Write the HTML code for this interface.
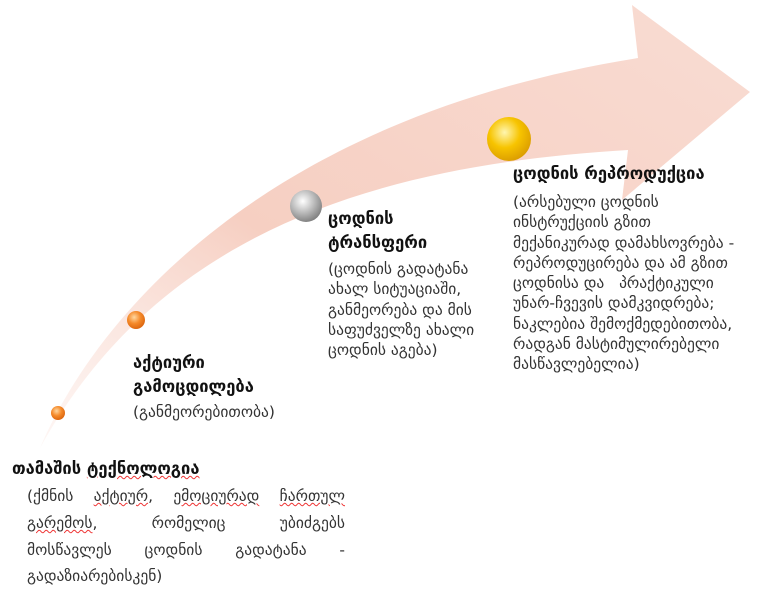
<!DOCTYPE html>
<html><head><meta charset="utf-8"><style>
body{margin:0;width:768px;height:610px;background:#fff;position:relative;overflow:hidden;font-family:"DejaVu Sans","Liberation Sans",sans-serif;color:#222}
.t{position:absolute;white-space:nowrap}
.h{font-weight:bold;font-size:16.5px;color:#111}
.b{font-size:15.5px;color:#333}
.u{text-decoration:underline wavy #e33;text-decoration-thickness:1px}
.j{position:absolute;left:27px;width:318px;text-align:justify;text-align-last:justify;white-space:nowrap;font-size:15.5px;color:#333}
</style></head><body>
<svg width="768" height="610" style="position:absolute;left:0;top:0">
<defs>
<linearGradient id="g" x1="0" y1="1" x2="1" y2="0">
<stop offset="0" stop-color="#fbe3dc" stop-opacity="0.3"/>
<stop offset="0.4" stop-color="#f6cfc2"/>
<stop offset="1" stop-color="#f9dcd3"/>
</linearGradient>
<radialGradient id="o" cx="0.4" cy="0.35" r="0.7"><stop offset="0" stop-color="#ffd7a0"/><stop offset="0.5" stop-color="#f58a2a"/><stop offset="1" stop-color="#d9620c"/></radialGradient>
<radialGradient id="gr" cx="0.4" cy="0.35" r="0.7"><stop offset="0" stop-color="#fff"/><stop offset="0.5" stop-color="#bdbdbd"/><stop offset="1" stop-color="#7a7a7a"/></radialGradient>
<radialGradient id="y" cx="0.4" cy="0.35" r="0.7"><stop offset="0" stop-color="#fff6b0"/><stop offset="0.5" stop-color="#f7c400"/><stop offset="1" stop-color="#d99a00"/></radialGradient>
</defs>
<path d="M40,448 C90,330 250,120 638,58 L632,5 L750,92 L622,200 L628,150 C380,165 160,230 40,448 Z" fill="url(#g)"/>
<circle cx="58" cy="413" r="7" fill="url(#o)"/>
<circle cx="136" cy="320" r="9" fill="url(#o)"/>
<circle cx="306" cy="206" r="16" fill="url(#gr)"/>
<circle cx="509" cy="139" r="22" fill="url(#y)"/>
</svg>
<div class="t h" style="left:12px;top:459px"><span>თამაშის</span> <span class="u">ტექნოლოგია</span></div>
<div class="j" style="top:487px">(ქმნის <span class="u">აქტიურ</span>, <span class="u">ემოციურად</span> <span class="u">ჩართულ</span></div>
<div class="j" style="top:514px"><span class="u">გარემოს</span>, რომელიც უბიძგებს</div>
<div class="j" style="top:541px">მოსწავლეს ცოდნის გადატანა -</div>
<div class="t b" style="left:27px;top:567px">გადაზიარებისკენ)</div>
<div class="t h" style="left:133px;top:351px;line-height:24px">აქტიური<br>გამოცდილება</div>
<div class="t b" style="left:133px;top:403px">(განმეორებითობა)</div>
<div class="t h" style="left:328px;top:207px;line-height:24px">ცოდნის<br>ტრანსფერი</div>
<div class="t b" style="left:328px;top:259px;line-height:20.3px">(ცოდნის გადატანა<br>ახალ სიტუაციაში,<br>განმეორება და მის<br>საფუძველზე ახალი<br>ცოდნის აგება)</div>
<div class="t h" style="left:513px;top:164px">ცოდნის რეპროდუქცია</div>
<div class="t b" style="left:513px;top:192px;line-height:20.3px">(არსებული ცოდნის<br>ინსტრუქციის გზით<br>მექანიკურად დამახსოვრება -<br>რეპროდუცირება და ამ გზით<br>ცოდნისა და &nbsp; პრაქტიკული<br>უნარ-ჩვევის დამკვიდრება;<br>ნაკლებია შემოქმედებითობა,<br>რადგან მასტიმულირებელი<br>მასწავლებელია)</div>
</body></html>
